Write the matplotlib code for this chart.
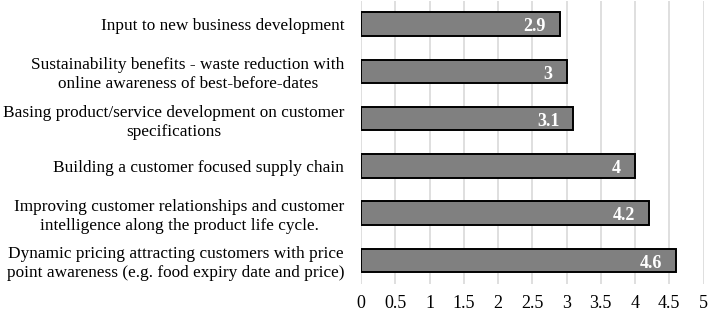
import matplotlib.pyplot as plt

# data (top to bottom as shown)
labels = [
    'Input to new business development',
    'Sustainability benefits - waste reduction with\nonline awareness of best-before-dates',
    'Basing product/service development on customer\nspecifications',
    'Building a customer focused supply chain',
    'Improving customer relationships and customer\nintelligence along the product life cycle.',
    'Dynamic pricing attracting customers with price\npoint awareness (e.g. food expiry date and price)',
]
values = [2.9, 3, 3.1, 4, 4.2, 4.6]
value_text = ['2.9', '3', '3.1', '4', '4.2', '4.6']
xticks = [0, 0.5, 1, 1.5, 2, 2.5, 3, 3.5, 4, 4.5, 5]
xtick_labels = ['0', '0.5', '1', '1.5', '2', '2.5', '3', '3.5', '4', '4.5', '5']

plt.rcParams['font.family'] = ['Liberation Serif', 'DejaVu Serif']

fig = plt.figure(figsize=(7.1, 3.16), dpi=100)
ax = fig.add_axes([361 / 710, 1 - 284 / 316, (703.5 - 361) / 710, 283.5 / 316])

ypos = list(range(len(values)))
bars = ax.barh(ypos, values, height=0.5, color='#808080', edgecolor='black', linewidth=1.4, zorder=3)
ax.set_ylim(len(values) - 0.5, -0.5)
ax.set_xlim(0, 5)

for b, t in zip(bars, value_text):
    ax.annotate(t, (b.get_width(), b.get_y() + b.get_height() / 2),
                xytext=(-10, -2), textcoords='offset points', ha='right', va='center',
                color='white', fontweight='bold', fontsize=13, zorder=4)

ax.set_yticks(ypos)
ax.set_yticklabels(labels, fontsize=12.4, multialignment='center', linespacing=1.25)
ax.set_xticks(xticks)
ax.set_xticklabels(xtick_labels, fontsize=13)
ax.tick_params(axis='y', length=0, pad=12)
ax.tick_params(axis='x', length=0, pad=8)
ax.grid(axis='x', color='#d9d9d9', linewidth=1.2, zorder=0)
for s in ax.spines.values():
    s.set_visible(False)

plt.savefig('out.png', dpi=100)
